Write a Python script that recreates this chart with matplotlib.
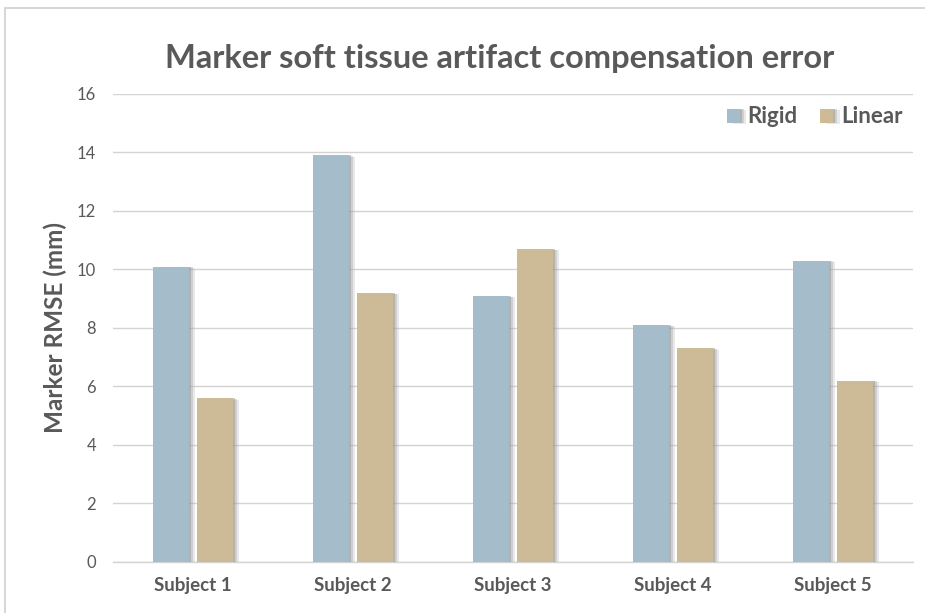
import numpy as np
import matplotlib
matplotlib.use("Agg")
import matplotlib.pyplot as plt
import matplotlib.patheffects as pe
from matplotlib.patches import Rectangle

# Data
subjects = ["Subject 1", "Subject 2", "Subject 3", "Subject 4", "Subject 5"]
rigid = [10.1, 13.9, 9.1, 8.1, 10.3]
linear = [5.6, 9.2, 10.7, 7.3, 6.2]
y_ticks = [0, 2, 4, 6, 8, 10, 12, 14, 16]

plt.rcParams['font.family'] = ['Lato', 'DejaVu Sans']
text_color = '#595959'
rigid_color = '#A5BCCB'
linear_color = '#CDBB98'

fig = plt.figure(figsize=(9.25, 6.13), dpi=100)
ax = fig.add_axes([0.122, 0.0832, 0.865, 0.7635])

# chart border (top and left visible)
fig.patches.append(Rectangle((5 / 925, -0.1), 1.2, 1.1 - 8 / 613,
                             transform=fig.transFigure, fill=False,
                             edgecolor='#D0D0D0', linewidth=1.2))

x = np.arange(len(subjects))
w = 0.225
# soft drop shadow, a few stacked layers
shadow = [pe.SimplePatchShadow(offset=(4.5, -1), shadow_rgbFace='#B8B8B8', alpha=0.3),
          pe.SimplePatchShadow(offset=(3, -0.5), shadow_rgbFace='#A0A0A0', alpha=0.35),
          pe.SimplePatchShadow(offset=(1.5, 0), shadow_rgbFace='#888888', alpha=0.4),
          pe.Normal()]
b1 = ax.bar(x - 0.1375, rigid, w, color=rigid_color, label='Rigid', zorder=3)
b2 = ax.bar(x + 0.1375, linear, w, color=linear_color, label='Linear', zorder=3)
for p in list(b1) + list(b2):
    p.set_path_effects(shadow)

ax.set_xlim(-0.5, 4.5)
ax.set_ylim(0, 16)
ax.set_yticks(y_ticks)
ax.set_xticks(x)
ax.set_xticklabels(subjects, fontsize=13.5, fontweight='bold', color=text_color)
ax.tick_params(axis='y', labelsize=12, colors=text_color, length=0, pad=12)
ax.tick_params(axis='x', length=0, pad=11)
ax.grid(axis='y', color='#D3D3D3', linewidth=1, zorder=0)
for s in ['top', 'right', 'left']:
    ax.spines[s].set_visible(False)
ax.spines['bottom'].set_color('#D3D3D3')
ax.spines['bottom'].set_linewidth(1)

ax.set_ylabel('Marker RMSE (mm)', fontsize=17.5, fontweight='bold', color=text_color)
ax.yaxis.set_label_coords(-0.057, 0.5)
fig.text(0.54, 0.905, 'Marker soft tissue artifact compensation error', ha='center', va='center',
         fontsize=23.5, fontweight='bold', color=text_color)

leg = ax.legend(loc='upper right', bbox_to_anchor=(1.012, 1.016), ncol=2, frameon=False,
                fontsize=16, handlelength=0.6, handleheight=0.6, handletextpad=0.35,
                columnspacing=1.0)
for t in leg.get_texts():
    t.set_color(text_color)
    t.set_fontweight('bold')

fig.savefig('out.png', dpi=100)
